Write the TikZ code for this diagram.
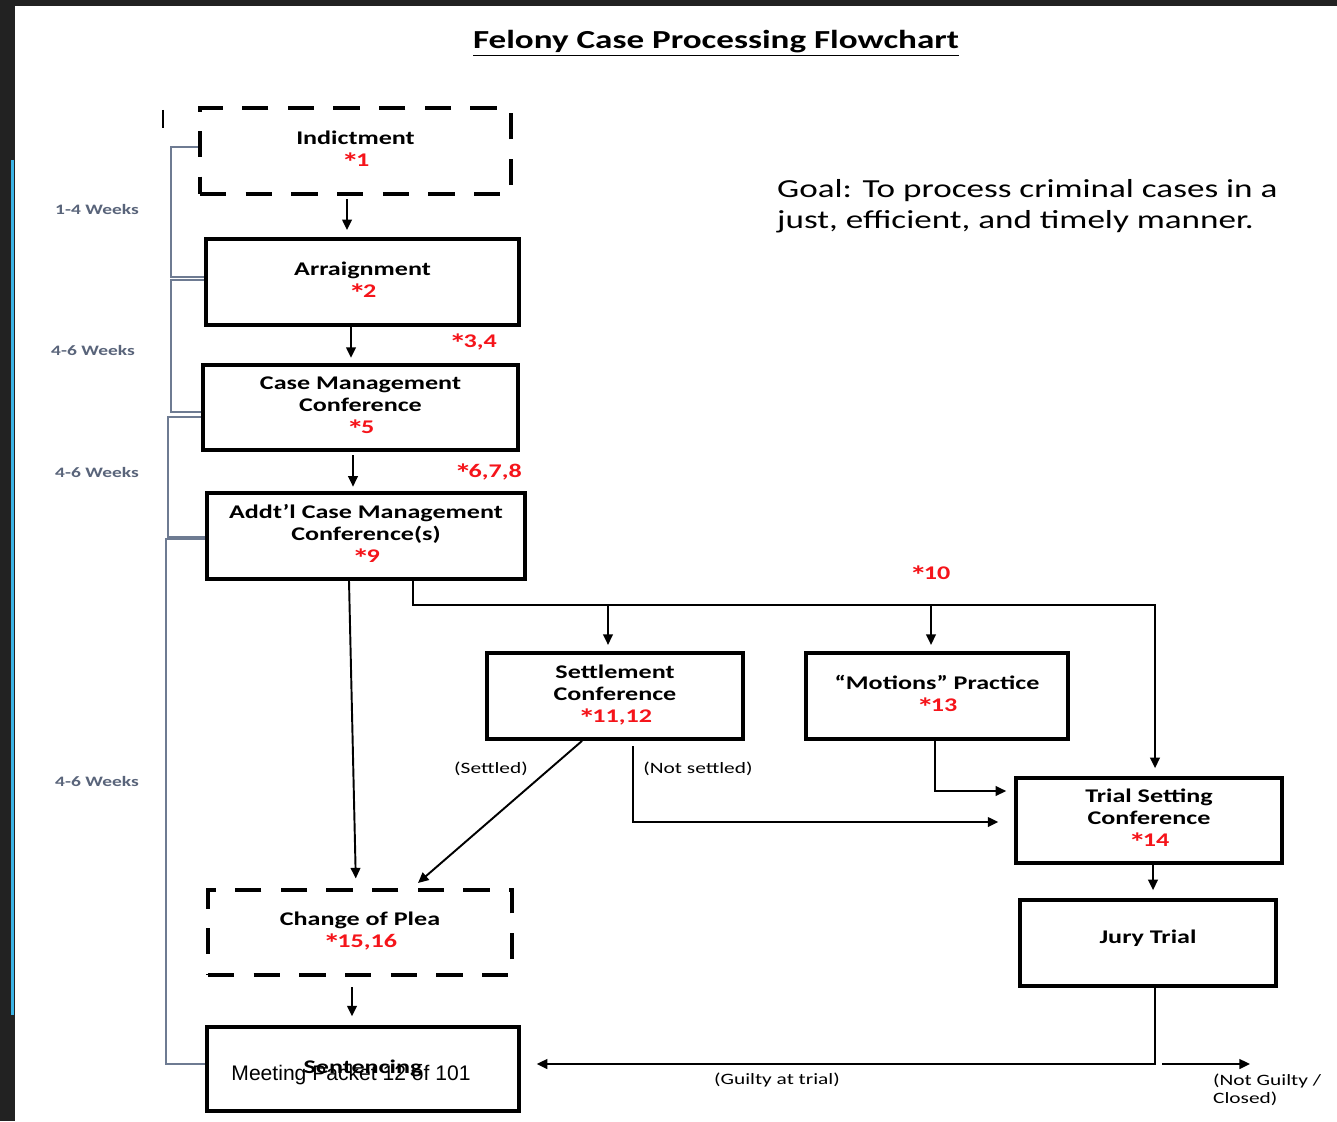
\documentclass[tikz,border=0pt]{standalone}
\usepackage{fontspec}
\setmainfont{Carlito}[FakeStretch=1.35]
\newfontfamily\arialf{Liberation Sans}
\usetikzlibrary{arrows.meta}
\definecolor{rd}{HTML}{F5141A}
\definecolor{wk}{HTML}{59647A}
\definecolor{brk}{HTML}{6E7B92}
\definecolor{bgdark}{HTML}{222222}
\definecolor{sky}{HTML}{3BB4E6}
\newcommand\myast{\raisebox{-3pt}{\scalebox{1.35}{*}}\kern-1.8pt}
\newcommand\rn[1]{{\color{rd}\myast#1}}
\tikzset{
  box/.style={draw, rectangle, line width=2.2pt, align=center, inner sep=0pt,
    font=\fontsize{11}{12.5}\selectfont\bfseries},
  dbox/.style={box, dash pattern=on 15pt off 11pt},
  conn/.style={line width=1.1pt},
  arw/.style={conn, -{Triangle[length=6pt,width=5.5pt]}},
  brack/.style={draw=brk, line width=0.6pt},
  wklab/.style={text=wk, font=\fontsize{8.2}{10}\selectfont\bfseries},
  rlab/.style={text=rd, font=\fontsize{11}{12.5}\selectfont\bfseries},
  slab/.style={font=\fontsize{9}{10.2}\selectfont},
}
\begin{document}
\begin{tikzpicture}[x=0.02cm,y=-0.02cm]
\path[fill=bgdark] (0,0) rectangle (1337,1121);
\path[fill=white] (15,6) rectangle (1337,1121);
\draw[sky, line width=1.8pt] (12.5,160) -- (12.5,1015);
\useasboundingbox (0,0) rectangle (1337,1121);

% title and goal
\node[font=\fontsize{14.8}{17}\selectfont\bfseries] (title) at (716,43) {\underline{Felony Case Processing Flowchart}};
\node[font=\fontsize{14.8}{17.6}\selectfont, align=left, anchor=west] (goal) at (771,206)
  {Goal: To process criminal cases in a\\just, efficient, and timely manner.};

% boxes
\node[dbox, minimum width=6.22cm, minimum height=1.72cm] (ind) at (355.5,151) {Indictment\\\rn{1}};
\node[box, minimum width=6.26cm, minimum height=1.72cm] (arn) at (362.5,282) {\raisebox{-2pt}{\begin{tabular}{@{}c@{}}Arraignment\\\rn{2}\end{tabular}}};
\node[box, minimum width=6.30cm, minimum height=1.70cm] (cmc) at (360.5,407.5) {Case Management\\Conference\\\rn{5}};
\node[box, minimum width=6.36cm, minimum height=1.72cm] (add) at (366,536) {\raisebox{4pt}{\begin{tabular}{@{}c@{}}Addt’l Case Management\\Conference(s)\\\rn{9}\end{tabular}}};
\node[box, minimum width=5.12cm, minimum height=1.72cm] (set) at (615,696) {Settlement\\Conference\\\rn{11,12}};
\node[box, minimum width=5.24cm, minimum height=1.72cm] (mot) at (937,696) {“Motions” Practice\\\rn{13}};
\node[box, minimum width=5.32cm, minimum height=1.70cm] (tsc) at (1149,820.5) {Trial Setting\\Conference\\\rn{14}};
\node[box, minimum width=5.12cm, minimum height=1.72cm] (jury) at (1148,943) {\raisebox{7pt}{Jury Trial}};
\node[dbox, minimum width=6.08cm, minimum height=1.70cm] (cop) at (360,932.5) {Change of Plea\\\rn{15,16}};
\node[box, minimum width=6.24cm, minimum height=1.68cm] (sen) at (363,1069) {\raisebox{3pt}{Sentencing}};
\node[font=\arialf\fontsize{12}{14}\selectfont] (mp) at (351,1075) {Meeting Packet 12 of 101};

% red reference labels
\node[rlab] (r34) at (473,343) {\myast3,4};
\node[rlab] (r678) at (488,473) {\myast6,7,8};
\node[rlab] (r10) at (930,575) {\myast10};

% tick
\draw[conn] (163,110) -- (163,128);

% week brackets
\draw[brack] (ind.west |- 0,147) -- (171,147) -- (171,277) -- (arn.west |- 0,277);
\draw[brack] (arn.west |- 0,280) -- (171,280) -- (171,412) -- (cmc.west |- 0,412);
\draw[brack] (cmc.west |- 0,417) -- (168,417) -- (168,537) -- (add.west |- 0,537);
\draw[brack] (add.west |- 0,539) -- (166,539) -- (166,1064) -- (sen.west |- 0,1064);
\node[wklab] (w1) at (97,210) {1-4 Weeks};
\node[wklab] (w2) at (93,350) {4-6 Weeks};
\node[wklab] (w3) at (97,472) {4-6 Weeks};
\node[wklab] (w4) at (97,781) {4-6 Weeks};

% vertical flow arrows
\draw[arw, shorten <=2pt, shorten >=4pt] (347,0 |- ind.south) -- (347,0 |- arn.north);
\draw[arw, shorten >=3pt] (351,0 |- arn.south) -- (351,0 |- cmc.north);
\draw[arw, shorten <=2pt, shorten >=2.5pt] (353,0 |- cmc.south) -- (353,0 |- add.north);
\draw[arw, shorten >=5.5pt] (349,0 |- add.south) -- (356,0 |- cop.north);
\draw[arw, shorten <=6pt, shorten >=5pt] (352,0 |- cop.south) -- (352,0 |- sen.north);
\draw[arw, shorten >=4.5pt] (1153,0 |- tsc.south) -- (1153,0 |- jury.north);

% branch from additional CMC
\coordinate (bj) at (413,605);
\draw[arw, shorten >=4.5pt] (413,0 |- add.south) -- (bj) -- (1155,605) -- (1155,0 |- tsc.north);
\draw[arw, shorten >=3.5pt] (608,605) -- (608,0 |- set.north);
\draw[arw, shorten >=3.5pt] (931,605) -- (931,0 |- mot.north);

% settled / not settled
\coordinate (settledEnd) at (418,883);
\draw[arw] (582,0 |- set.south) -- (settledEnd);
\node[slab] (lsettled) at (491,769) {(Settled)};
\draw[arw, shorten <=3pt, shorten >=9pt] (633,0 |- set.south) -- (633,822) -- (tsc.west |- 0,822);
\node[slab] (lnotset) at (698,769) {(Not settled)};
\draw[arw, shorten >=4.5pt] (935,0 |- mot.south) -- (935,791) -- (tsc.west |- 0,791);

% jury outcomes
\draw[arw, shorten >=9pt] (1155,0 |- jury.south) -- (1155,1064) -- (sen.east |- 0,1064);
\node[slab] (lguilty) at (777,1080) {(Guilty at trial)};
\coordinate (ngStart) at (1162,1064);
\coordinate (ngEnd) at (1250,1064);
\draw[arw] (ngStart) -- (ngEnd);
\node[slab, align=left, anchor=north west] (lng) at (1207,1068) {(Not Guilty /\\Closed)};
\end{tikzpicture}
\end{document}
